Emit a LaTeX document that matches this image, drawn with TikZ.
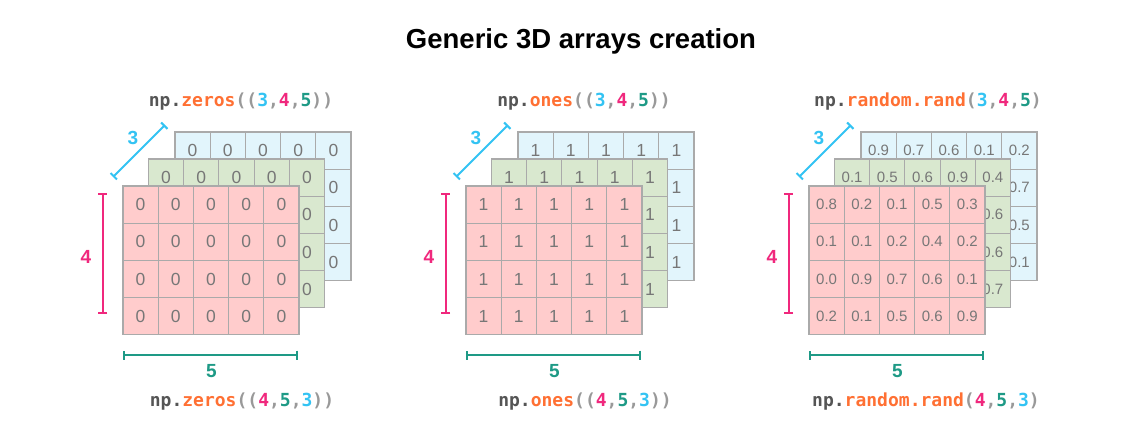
\documentclass[tikz,border=0pt]{standalone}
\usepackage{fontspec}
\setmainfont{Liberation Sans}
\setmonofont{DejaVu Sans Mono}
\usetikzlibrary{arrows.meta}
\definecolor{cred}{HTML}{FFCCCC}
\definecolor{cgreen}{HTML}{D9E8CF}
\definecolor{cblue}{HTML}{E2F5FC}
\definecolor{cborder}{HTML}{AAAAAA}
\definecolor{cnum}{HTML}{777777}
\definecolor{dimA}{HTML}{33C3F3}
\definecolor{dimB}{HTML}{F0287D}
\definecolor{dimC}{HTML}{1E9A86}
\definecolor{cfun}{HTML}{FF7033}
\definecolor{cnp}{HTML}{555555}
\definecolor{cpar}{HTML}{999999}
\tikzset{
  cell/.style={draw=cborder, line width=1.1pt, minimum width=35.2pt, minimum height=37.2pt, inner sep=0pt, text=cnum},
  bigdig/.style={font=\fontsize{17.5}{17.5}\selectfont},
  smalldig/.style={font=\fontsize{15}{15}\selectfont},
  dimline/.style={line width=2pt, {Bar[width=9pt,line width=2pt]}-{Bar[width=9pt,line width=2pt]}},
  dimlabel/.style={font=\bfseries\fontsize{19}{19}\selectfont},
  code/.style={font=\ttfamily\bfseries\fontsize{18}{18}\selectfont, text=cnp},
}
\newcommand\cellval[1]{\def\mytmpa{-}\edef\mytmpb{#1}\ifx\mytmpa\mytmpb\else#1\fi}
\newcommand\drawlayer[6]{%
  \foreach \rowvals [count=\i] in {#5} {%
    \foreach \v [count=\j] in \rowvals {%
      \node[cell,#6,fill=#4] (#1-\i-\j) at ({#2+(\j-0.5)*35.2},{#3+(\i-0.5)*37.2}) {\cellval{\v}};
    }
  }
}
\newcommand\dims[2]{% #1 prefix, #2 dx
  \coordinate (#1-a1) at (113+#2,177);
  \coordinate (#1-a2) at (165+#2,125);
  \draw[dimline, dimA] (#1-a1) -- (#1-a2);
  \node[dimlabel, text=dimA] (#1-l3) at (133+#2,138) {3};
  \coordinate (#1-b1) at (102.7+#2,193);
  \coordinate (#1-b2) at (102.7+#2,314);
  \draw[dimline, dimB] (#1-b1) -- (#1-b2);
  \node[dimlabel, text=dimB] (#1-l4) at (86+#2,257) {4};
  \coordinate (#1-c1) at (122.7+#2,355);
  \coordinate (#1-c2) at (298+#2,355);
  \draw[dimline, dimC] (#1-c1) -- (#1-c2);
  \node[dimlabel, text=dimC] (#1-l5) at (211.5+#2,371) {5};
}
\newcommand\cA[1]{\textcolor{dimA}{#1}}
\newcommand\cB[1]{\textcolor{dimB}{#1}}
\newcommand\cC[1]{\textcolor{dimC}{#1}}
\newcommand\cP[1]{\textcolor{cpar}{#1}}
\newcommand\cF[1]{\textcolor{cfun}{#1}}
\begin{document}
\begin{tikzpicture}[x=1pt,y=-1pt]
\useasboundingbox[fill=white] (0,0) rectangle (1137,443);
\node[font=\bfseries\fontsize{27.5}{30}\selectfont] (title) at (581,41) {Generic 3D arrays creation};

% Panel 1: zeros
\drawlayer{z3}{175}{132}{cblue}{{0,0,0,0,0},{0,0,0,0,0},{0,0,0,0,0},{0,0,0,0,0}}{bigdig}
\drawlayer{z2}{148.5}{159}{cgreen}{{0,0,0,0,0},{0,0,0,0,0},{0,0,0,0,0},{0,0,0,0,0}}{bigdig}
\drawlayer{z1}{123}{186}{cred}{{0,0,0,0,0},{0,0,0,0,0},{0,0,0,0,0},{0,0,0,0,0}}{bigdig}
\dims{zd}{0}
\node[code] (zt) at (241,102) {np.\cF{zeros}\cP{((}\cA{3}\cP{,}\cB{4}\cP{,}\cC{5}\cP{))}};
\node[code] (zb) at (242,402) {np.\cF{zeros}\cP{((}\cB{4}\cP{,}\cC{5}\cP{,}\cA{3}\cP{))}};

% Panel 2: ones
\drawlayer{o3}{518}{132}{cblue}{{1,1,1,1,1},{1,1,1,1,1},{1,1,1,1,1},{1,1,1,1,1}}{bigdig}
\drawlayer{o2}{491.5}{159}{cgreen}{{1,1,1,1,1},{1,1,1,1,1},{1,1,1,1,1},{1,1,1,1,1}}{bigdig}
\drawlayer{o1}{466}{186}{cred}{{1,1,1,1,1},{1,1,1,1,1},{1,1,1,1,1},{1,1,1,1,1}}{bigdig}
\dims{od}{343}
\node[code] (ot) at (584,102) {np.\cF{ones}\cP{((}\cA{3}\cP{,}\cB{4}\cP{,}\cC{5}\cP{))}};
\node[code] (ob) at (585,402) {np.\cF{ones}\cP{((}\cB{4}\cP{,}\cC{5}\cP{,}\cA{3}\cP{))}};

% Panel 3: random
\drawlayer{r3}{861}{132}{cblue}{{0.9,0.7,0.6,0.1,0.2},{-,-,-,-,0.7},{-,-,-,-,0.5},{-,-,-,-,0.1}}{smalldig}
\drawlayer{r2}{834.5}{159}{cgreen}{{0.1,0.5,0.6,0.9,0.4},{-,-,-,-,0.6},{-,-,-,-,0.6},{-,-,-,-,0.7}}{smalldig}
\drawlayer{r1}{809}{186}{cred}{{0.8,0.2,0.1,0.5,0.3},{0.1,0.1,0.2,0.4,0.2},{0.0,0.9,0.7,0.6,0.1},{0.2,0.1,0.5,0.6,0.9}}{smalldig}
\dims{rd}{686}
\node[code] (rt) at (928,102) {np.\cF{random.rand}\cP{(}\cA{3}\cP{,}\cB{4}\cP{,}\cC{5}\cP{)}};
\node[code] (rb) at (926,402) {np.\cF{random.rand}\cP{(}\cB{4}\cP{,}\cC{5}\cP{,}\cA{3}\cP{)}};
\end{tikzpicture}
\end{document}
